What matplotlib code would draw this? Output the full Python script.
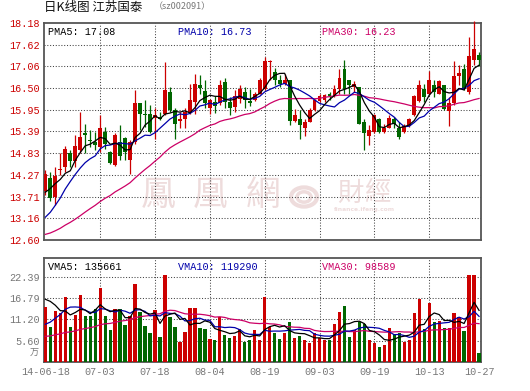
import matplotlib
matplotlib.use('Agg')
import matplotlib.pyplot as plt
import numpy as np
from matplotlib.patches import Circle

W, H = 530, 391
MONO = ['Liberation Mono', 'DejaVu Sans Mono']
CJK = ['Noto Sans CJK SC', 'DejaVu Sans']
plt.rcParams['font.family'] = MONO

# ---------------- data ----------------
tick_idx = [0, 11, 22, 33, 44, 55, 66, 77, 87]
tick_labels = ['14-06-18', '07-03', '07-18', '08-04', '08-19', '09-03', '09-19', '10-13', '10-27']

price_ticks = [12.60, 13.16, 13.71, 14.27, 14.83, 15.39, 15.95, 16.50, 17.06, 17.62, 18.18]
vol_ticks = [5.60, 11.20, 16.79, 22.39]

opens = [13.85, 14.19, 13.72, 14.40, 14.47, 14.83, 14.63, 14.91, 15.36, 15.18,
         15.12, 15.00, 15.38, 14.85, 14.53, 15.12, 15.21, 14.66, 15.12, 16.12,
         15.85, 15.85, 15.74, 15.77, 15.85, 16.39, 15.94, 15.65, 15.72, 15.89,
         16.15, 16.59, 16.42, 15.98, 16.15, 16.11, 16.66, 16.15, 16.02, 16.21,
         16.41, 16.17, 16.19, 16.36, 16.48, 17.16, 16.92, 16.70, 16.60, 16.72,
         15.65, 15.72, 15.48, 15.64, 15.94, 16.17, 16.19, 16.34, 16.30, 16.47,
         17.00, 16.72, 16.53, 16.53, 15.62, 15.28, 15.38, 15.72, 15.38, 15.47,
         15.72, 15.49, 15.38, 15.53, 15.81, 16.17, 16.47, 16.34, 16.58, 16.36,
         16.58, 15.91, 16.11, 16.81, 17.00, 16.41, 17.22, 17.36]
closes = [14.31, 13.67, 14.24, 14.43, 14.93, 14.63, 15.01, 15.24, 15.30, 15.14,
          15.04, 15.47, 15.08, 14.57, 15.30, 14.76, 14.87, 15.12, 16.12, 15.85,
          15.81, 15.38, 15.81, 15.72, 16.46, 15.94, 15.59, 15.72, 15.89, 16.19,
          16.60, 16.51, 16.11, 16.19, 16.05, 16.58, 16.15, 15.99, 16.30, 16.47,
          16.19, 16.11, 16.36, 16.70, 17.20, 17.19, 16.70, 16.60, 16.72, 15.66,
          15.82, 15.55, 15.64, 15.94, 16.19, 16.29, 16.32, 16.30, 16.47, 16.76,
          16.49, 16.59, 16.62, 15.59, 15.34, 15.42, 15.82, 15.38, 15.49, 15.74,
          15.57, 15.24, 15.53, 15.71, 16.30, 16.59, 16.28, 16.72, 16.41, 16.69,
          15.96, 16.11, 16.81, 16.90, 16.49, 17.33, 17.51, 17.22]
highs = [14.40, 14.34, 14.49, 14.84, 15.01, 14.91, 15.30, 15.90, 15.59, 15.44,
         15.38, 15.81, 15.51, 14.89, 15.34, 15.55, 15.25, 15.17, 16.46, 16.12,
         16.19, 16.06, 15.98, 15.89, 17.17, 16.53, 15.98, 15.89, 15.98, 16.62,
         16.87, 16.83, 16.70, 16.23, 16.30, 16.72, 16.75, 16.28, 16.45, 16.58,
         16.53, 16.49, 16.39, 16.76, 17.30, 17.22, 17.02, 16.83, 16.87, 16.72,
         15.96, 15.94, 15.71, 15.98, 16.21, 16.36, 16.36, 16.41, 16.58, 17.00,
         17.22, 16.72, 16.68, 16.53, 15.72, 15.55, 15.85, 15.74, 15.57, 15.81,
         15.77, 15.64, 15.57, 15.74, 16.32, 16.70, 16.62, 16.94, 16.72, 16.70,
         16.59, 16.28, 17.19, 17.09, 17.13, 17.81, 18.22, 17.43]
lows = [13.76, 13.61, 13.50, 14.27, 14.34, 14.49, 14.49, 14.83, 14.83, 15.00,
        14.91, 14.87, 14.95, 14.55, 14.51, 14.66, 14.66, 14.30, 15.08, 15.42,
        15.51, 15.34, 15.19, 15.68, 15.81, 15.89, 15.19, 15.47, 15.47, 15.85,
        15.85, 16.36, 15.98, 15.85, 15.87, 16.08, 15.99, 15.81, 15.89, 16.11,
        16.00, 16.04, 16.17, 16.34, 16.45, 16.70, 16.58, 16.52, 16.58, 15.55,
        15.64, 15.19, 15.28, 15.62, 15.91, 16.15, 16.15, 16.19, 16.28, 16.36,
        16.36, 16.36, 16.41, 15.57, 14.91, 15.04, 15.36, 15.34, 15.34, 15.47,
        15.47, 15.19, 15.36, 15.51, 15.79, 16.15, 16.15, 16.32, 16.28, 16.34,
        15.94, 15.53, 16.08, 16.58, 16.45, 16.36, 17.09, 17.06]
# volume in 10k (万)
volumes = [14.4, 9.2, 13.4, 12.9, 17.1, 9.2, 12.4, 17.6, 12.1, 12.1,
           14.0, 19.5, 12.1, 8.4, 14.0, 14.0, 9.7, 12.1, 20.5, 13.2,
           9.5, 7.6, 13.7, 6.6, 22.9, 11.9, 9.2, 5.3, 7.9, 14.2,
           14.2, 9.0, 8.7, 6.1, 5.8, 11.9, 7.1, 6.3, 6.8, 8.7,
           5.3, 5.8, 8.4, 5.8, 17.0, 9.3, 7.6, 6.1, 7.6, 10.5,
           6.3, 6.8, 5.8, 5.0, 7.6, 6.3, 5.8, 5.8, 10.0, 13.2,
           14.8, 6.6, 8.4, 10.5, 10.0, 5.8, 5.0, 4.0, 4.5, 9.0,
           7.4, 7.6, 5.3, 5.8, 12.9, 16.7, 8.7, 15.6, 10.5, 10.8,
           8.8, 9.0, 12.9, 11.8, 8.0, 22.8, 23.0, 2.2]
# estimated sessions before the window (needed for the moving averages)
pre_closes = [12.60, 12.55, 12.50, 12.48, 12.52, 12.58, 12.55, 12.50, 12.47, 12.52,
              12.56, 12.54, 12.50, 12.49, 12.53, 12.57, 12.55, 12.51, 12.50, 12.57,
              12.40, 12.45, 12.55, 12.62, 12.72, 13.20, 13.60, 13.90, 14.15]
pre_volumes = [5.5, 4.8, 5.2, 6.0, 5.0, 4.6, 5.3, 5.8, 4.9, 5.1,
               4.7, 5.2, 5.5, 4.8, 5.0, 4.9, 5.3, 4.6, 5.0, 4.8,
               3.5, 3.2, 3.0, 3.4, 3.4, 12.0, 18.5, 20.0, 17.6]

pma_labels = ['PMA5: 17.08', 'PMA10: 16.73', 'PMA30: 16.23']
vma_labels = ['VMA5: 135661', 'VMA10: 119290', 'VMA30: 98589']

# ---------------- styling ----------------
RED = '#cc0000'
GREEN = '#006600'
C5, C10, C30 = '#000000', '#0000aa', '#cc0066'
GRID = '#444444'
SPINE = '#555555'


def moving_avg(pre, vals, n):
    full = np.array(list(pre) + list(vals), dtype=float)
    k = len(pre)
    return np.array([full[k + i - n + 1:k + i + 1].mean() for i in range(len(vals))])


n = len(closes)
x = np.arange(n)
o = np.array(opens); c = np.array(closes); h = np.array(highs); l = np.array(lows)
v = np.array(volumes)
up = c >= o
cols = np.where(up, RED, GREEN)

fig = plt.figure(figsize=(W / 100, H / 100), dpi=100)
fig.patch.set_facecolor('white')

L, R = 43.7, 481.3


def axes_rect(top, bottom):
    return [L / W, 1 - bottom / H, (R - L) / W, (bottom - top) / H]


ax = fig.add_axes(axes_rect(22.7, 240.2))
axv = fig.add_axes(axes_rect(257.7, 361.7))

for a in (ax, axv):
    a.set_xlim(-0.33, 87.45)
    for s in a.spines.values():
        s.set_color(SPINE)
        s.set_linewidth(1.3)
    a.tick_params(axis='both', length=0, pad=2.5, labelsize=7.3)
    for xi in tick_idx[1:-1]:
        a.axvline(xi, color=GRID, lw=0.75, ls=(0, (1, 1.7)), zorder=1)

# --- price panel ---
ax.set_ylim(12.60, 18.18)
ax.set_yticks(price_ticks)
ax.set_yticklabels(['%.2f' % t for t in price_ticks], color=RED)
ax.set_xticks([])
for t in price_ticks[1:-1]:
    ax.axhline(t, color=GRID, lw=0.75, ls=(0, (1, 1.7)), zorder=1)

# watermark
wm = '#eedcdc'
for ch, px in zip('鳳凰網', [158, 210, 263]):
    ax.text(px / W, 1 - 195 / H, ch, transform=fig.transFigure, ha='center', va='center',
            fontsize=25, color=wm, family=['Noto Sans CJK TC', 'DejaVu Sans'], zorder=0.5)
for ch, px in zip('財經', [350, 377]):
    ax.text(px / W, 1 - 193 / H, ch, transform=fig.transFigure, ha='center', va='center',
            fontsize=19, color=wm, family=['Noto Sans CJK TC', 'DejaVu Sans'], zorder=0.5)
ax.text(364 / W, 1 - 210 / H, 'finance.ifeng.com', transform=fig.transFigure, ha='center',
        va='center', fontsize=4.3, color=wm, family=['DejaVu Sans'], weight='bold', zorder=0.5)
for r, lw in [(13, 3.0), (7, 2.5)]:
    ax.add_patch(Circle((304 / W, 1 - 197 / H), r / W, transform=fig.transFigure,
                        fill=False, ec=wm, lw=lw, zorder=0.5))

ax.vlines(x, l, h, colors=cols, lw=0.9, zorder=3, clip_on=False)
body_h = np.maximum(np.abs(c - o), 0.025)
ax.bar(x, body_h, bottom=np.minimum(o, c), width=0.78, color=cols, lw=0, zorder=3)

ma5 = moving_avg(pre_closes, closes, 5)
ma10 = moving_avg(pre_closes, closes, 10)
ma30 = moving_avg(pre_closes, closes, 30)
ax.plot(x, ma30, color=C30, lw=0.9, zorder=4)
ax.plot(x, ma10, color=C10, lw=0.9, zorder=4)
ax.plot(x, ma5, color=C5, lw=0.9, zorder=4)

# --- volume panel ---
axv.set_ylim(0, 27.49)
axv.set_yticks(vol_ticks)
axv.set_yticklabels(['%.2f' % t for t in vol_ticks], color='#777777')
for t in vol_ticks:
    axv.axhline(t, color=GRID, lw=0.75, ls=(0, (1, 1.7)), zorder=1)
axv.bar(x, v, width=0.66, color=cols, lw=0, zorder=3)
vma5 = moving_avg(pre_volumes, volumes, 5)
vma10 = moving_avg(pre_volumes, volumes, 10)
vma30 = moving_avg(pre_volumes, volumes, 30)
axv.plot(x, vma30, color=C30, lw=0.9, zorder=4)
axv.plot(x, vma10, color=C10, lw=0.9, zorder=4)
axv.plot(x, vma5, color=C5, lw=0.9, zorder=4)
axv.set_xticks(tick_idx)
axv.set_xticklabels(tick_labels, color='#777777')
axv.tick_params(axis='x', pad=3.5)

# --- legends / titles ---
for lab, px, col in zip(pma_labels, [47.5, 178, 322], [C5, C10, C30]):
    fig.text(px / W, 1 - 32 / H, lab, ha='left', va='center', fontsize=7.3, color=col)
for lab, px, col in zip(vma_labels, [47.5, 178, 322], [C5, C10, C30]):
    fig.text(px / W, 1 - 267 / H, lab, ha='left', va='center', fontsize=7.3, color=col)

fig.text(44 / W, 1 - 7 / H, '日K线图 江苏国泰', ha='left', va='center', fontsize=9,
         color='#111111', family=CJK)
fig.text(154 / W, 1 - 7 / H, '（sz002091）', ha='left', va='center', fontsize=6.5,
         color='#777777', family=CJK)
fig.text(39 / W, 1 - 353 / H, '万', ha='right', va='center', fontsize=6.5,
         color='#777777', family=CJK)

fig.savefig('out.png', dpi=100, facecolor='white')
